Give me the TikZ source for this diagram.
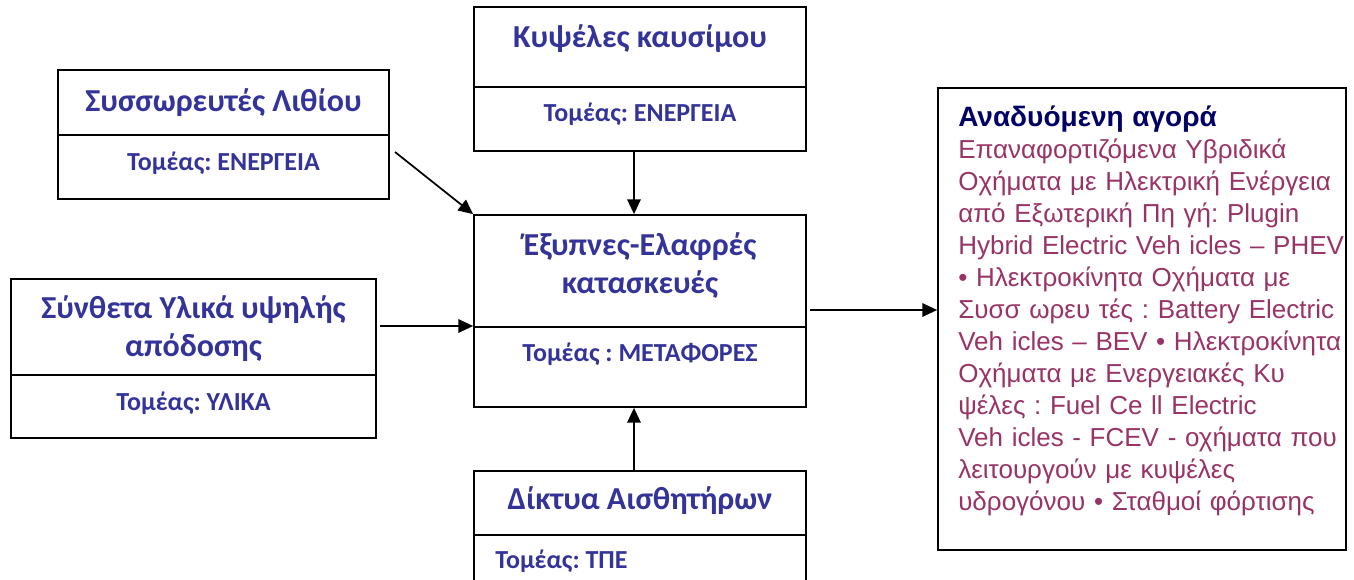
\documentclass[tikz,border=0pt]{standalone}
\usepackage{fontspec}
\setmainfont{Carlito}
\newfontfamily\arialf{Liberation Sans}
\usetikzlibrary{arrows.meta,fit,calc}
\definecolor{tblue}{RGB}{51,51,153}
\definecolor{tnavy}{RGB}{0,0,102}
\definecolor{tpink}{RGB}{153,51,102}
\frenchspacing
\begin{document}
\begin{tikzpicture}[x=0.75pt,y=-0.75pt,
  box/.style={draw,line width=1.3pt,inner sep=0pt},
  divl/.style={line width=1.3pt},
  ttl/.style={font=\fontsize{24}{28.5}\selectfont\bfseries,text=tblue,align=center,inner sep=0pt,anchor=base},
  sub/.style={font=\fontsize{19.5}{23}\selectfont\bfseries,text=tblue,inner sep=0pt,anchor=base},
  arr/.style={line width=1.3pt,-{Triangle[length=11pt,width=10pt]}}]
\useasboundingbox (0,0) rectangle (1354,580);
% boxes
\node[box,fit={(58,70)(389,199)}] (lith) {};
\node[box,fit={(474,7)(806,151)}] (fuel) {};
\node[box,fit={(474,215)(806,407)}] (cent) {};
\node[box,fit={(11,279)(376,438)}] (comp) {};
\node[box,fit={(474,471)(806,600)}] (sens) {};
\node[box,fit={(938,88)(1346,550)}] (mkt) {};
% dividers
\draw[divl] (lith.west |- 0,135) -- (lith.east |- 0,135);
\draw[divl] (fuel.west |- 0,87) -- (fuel.east |- 0,87);
\draw[divl] (cent.west |- 0,327) -- (cent.east |- 0,327);
\draw[divl] (comp.west |- 0,375) -- (comp.east |- 0,375);
\draw[divl] (sens.west |- 0,535) -- (sens.east |- 0,535);
% texts
\node[ttl] (lithT) at (223.5,112) {Συσσωρευτές Λιθίου};
\node[sub] (lithS) at (223.5,171) {Τομέας: ΕΝΕΡΓΕΙΑ};
\node[ttl] (fuelT) at (640,48) {Κυψέλες καυσίμου};
\node[sub] (fuelS) at (640,122) {Τομέας: ΕΝΕΡΓΕΙΑ};
\node[ttl] (centT) at (640,294) {Έξυπνες-Ελαφρές\\κατασκευές};
\node[sub] (centS) at (640,362) {Τομέας : ΜΕΤΑΦΟΡΕΣ};
\node[ttl] (compT) at (193.5,357) {Σύνθετα Υλικά υψηλής\\απόδοσης};
\node[sub] (compS) at (193.5,411) {Τομέας: ΥΛΙΚΑ};
\node[ttl] (sensT) at (640,510) {Δίκτυα Αισθητήρων};
\node[sub,anchor=base west] (sensS) at (495,569) {Τομέας: ΤΠΕ};
\node[anchor=base west,inner sep=0pt,text width=400*0.75pt,align=left,
  font=\arialf\fontsize{19.5}{24}\selectfont,text=tpink] (mktT) at (958,127)
  {{\bfseries\color{tnavy}\fontsize{21}{24}\selectfont Αναδυόμενη αγορά}\\
  Επαναφορτιζόμενα Υβριδικά\\
  Οχήματα με Ηλεκτρική Ενέργεια\\
  από Εξωτερική Πη γή: Plugin\\
  Hybrid Electric Veh icles – PHEV\\
  • Ηλεκτροκίνητα Οχήματα με\\
  Συσσ ωρευ τές : Battery Electric\\
  Veh icles – BEV • Ηλεκτροκίνητα\\
  Οχήματα με Ενεργειακές Κυ\\
  ψέλες : Fuel Ce ll Electric\\
  Veh icles - FCEV - οχήματα που\\
  λειτουργούν με κυψέλες\\
  υδρογόνου • Σταθμοί φόρτισης};
% connectors
\coordinate (a1) at (395,152);
\draw[arr] (a1) -- (cent.north west);
\draw[arr] ($(fuel.south)+(-6,0)$) -- ($(cent.north)+(-6,0)$);
\coordinate (a3) at (380,326);
\draw[arr] (a3) -- (cent.west |- a3);
\draw[arr] ($(sens.north)+(-6,0)$) -- ($(cent.south)+(-6,0)$);
\coordinate (a5) at (810,310);
\draw[arr] (a5) -- (mkt.west |- a5);
\end{tikzpicture}
\end{document}
